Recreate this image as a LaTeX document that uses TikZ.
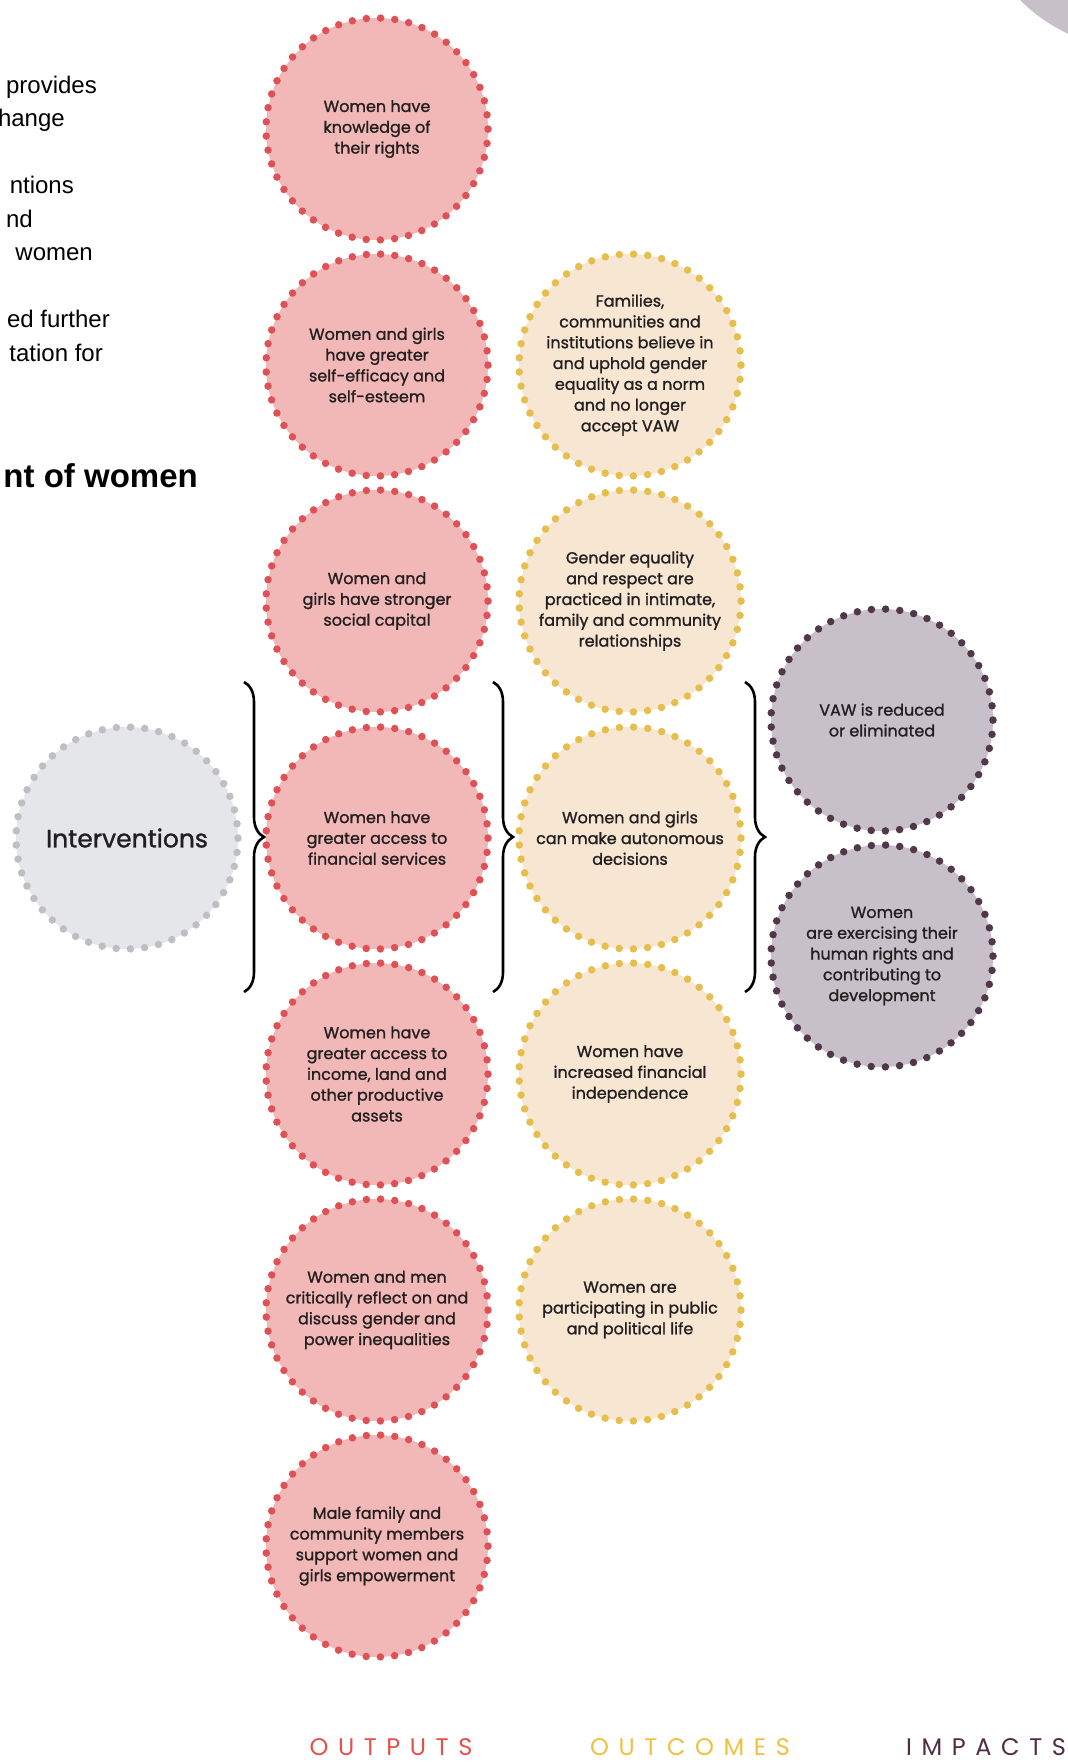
\documentclass[tikz,border=0pt]{standalone}
\usepackage{fontspec}
\setmainfont{Poppins}
\newfontfamily\docfont{Liberation Sans}
\newfontfamily\circfont[FakeBold=1.2]{Poppins}
\newfontfamily\capsfont[LetterSpace=40]{Poppins}
\usepackage{xcolor}
\usepackage{tikz}
\usetikzlibrary{decorations.pathreplacing}
\usetikzlibrary{calc}

\definecolor{outfill}{HTML}{F2B8B7}
\definecolor{outdot}{HTML}{DE5257}
\definecolor{ocfill}{HTML}{F7E6D2}
\definecolor{ocdot}{HTML}{E6BE4E}
\definecolor{impfill}{HTML}{C8C0C8}
\definecolor{impdot}{HTML}{50374A}
\definecolor{intfill}{HTML}{E5E6E9}
\definecolor{intdot}{HTML}{BEBEC3}
\definecolor{inktxt}{HTML}{231F20}
\definecolor{outlbl}{HTML}{E6504A}
\definecolor{oclbl}{HTML}{F0C040}
\definecolor{implbl}{HTML}{502D46}

\begin{document}
\begin{tikzpicture}[x=1pt,y=-1pt,
        dotcirc/.style={circle,minimum size=222pt,inner sep=0pt,align=center,
            line width=7.5pt,line cap=round,dash pattern=on 0pt off 14.23pt,
            text=inktxt,font=\circfont\fontsize{16}{20.8}\selectfont},
        outc/.style={dotcirc,fill=outfill,draw=outdot},
        occ/.style={dotcirc,fill=ocfill,draw=ocdot},
        impc/.style={dotcirc,fill=impfill,draw=impdot},
        intc/.style={dotcirc,fill=intfill,draw=intdot},
        brc/.style={decorate,decoration={brace,amplitude=20pt},line width=2.6pt},
        pagetxt/.style={anchor=base east,inner sep=0pt,font=\docfont\fontsize{24}{28}\selectfont},
        lbl/.style={anchor=base,inner sep=0pt,font=\capsfont\fontsize{24}{28}\selectfont}]
            \useasboundingbox (0,0) rectangle (1068,1762);
            \clip (0,0) rectangle (1068,1762);
            \fill[white] (0,0) rectangle (1068,1762);
            \fill[impfill] (1140,-120) circle (169.7pt);

            \node[pagetxt] (p1) at (97,93) {provides};
            \node[pagetxt] (p2) at (65,126.5) {hange};
            \node[pagetxt] (p3) at (74,193.5) {ntions};
            \node[pagetxt] (p4) at (33,227) {nd};
            \node[pagetxt] (p5) at (93,260.5) {women};
            \node[pagetxt] (p6) at (110,327.5) {ed further};
            \node[pagetxt] (p7) at (103,361) {tation for};
            \node[pagetxt,font=\docfont\bfseries\fontsize{33}{38}\selectfont] (p8) at (198,487) {nt of women};

            \node[intc,font=\circfont\fontsize{25}{28}\selectfont] (interv) at (127,838) {Interventions};

            \node[outc] (out1) at (377,129) {Women have\\knowledge of\\their rights};
            \node[outc] (out2) at (377,365) {Women and girls\\have greater\\self-efficacy and\\self-esteem};
            \node[outc] (out3) at (377,601) {Women and\\girls have stronger\\social capital};
            \node[outc] (out4) at (377,838) {Women have\\greater access to\\financial services};
            \node[outc] (out5) at (377,1074) {Women have\\greater access to\\income, land and\\other productive\\assets};
            \node[outc] (out6) at (377,1310) {Women and men\\critically reflect on and\\discuss gender and\\power inequalities};
            \node[outc] (out7) at (377,1546) {Male family and\\community members\\support women and\\girls empowerment};

            \node[occ] (oc1) at (630,365) {Families,\\communities and\\institutions believe in\\and uphold gender\\equality as a norm\\and no longer\\accept VAW};
            \node[occ] (oc2) at (630,601) {Gender equality\\and respect are\\practiced in intimate,\\family and community\\relationships};
            \node[occ] (oc3) at (630,838) {Women and girls\\can make autonomous\\decisions};
            \node[occ] (oc4) at (630,1074) {Women have\\increased financial\\independence};
            \node[occ] (oc5) at (630,1310) {Women are\\participating in public\\and political life};

            \node[impc] (imp1) at (882,720) {VAW is reduced\\or eliminated};
            \node[impc] (imp2) at (882,956) {Women\\are exercising their\\human rights and\\contributing to\\development};

            \coordinate (b1t) at (244,682);
            \coordinate (b1b) at (244,992);
            \coordinate (b2t) at (493,682);
            \coordinate (b2b) at (493,992);
            \coordinate (b3t) at (745,682);
            \coordinate (b3b) at (745,992);
            \draw[brc] (b1t) -- (b1b);
            \draw[brc] (b2t) -- (b2b);
            \draw[brc] (b3t) -- (b3b);

            \node[lbl,text=outlbl] (lout) at (391,1755) {OUTPUTS};
            \node[lbl,text=oclbl] (loc) at (690,1755) {OUTCOMES};
            \node[lbl,text=implbl] (limp) at (986,1755) {IMPACTS};
        \end{tikzpicture}
\end{document}
